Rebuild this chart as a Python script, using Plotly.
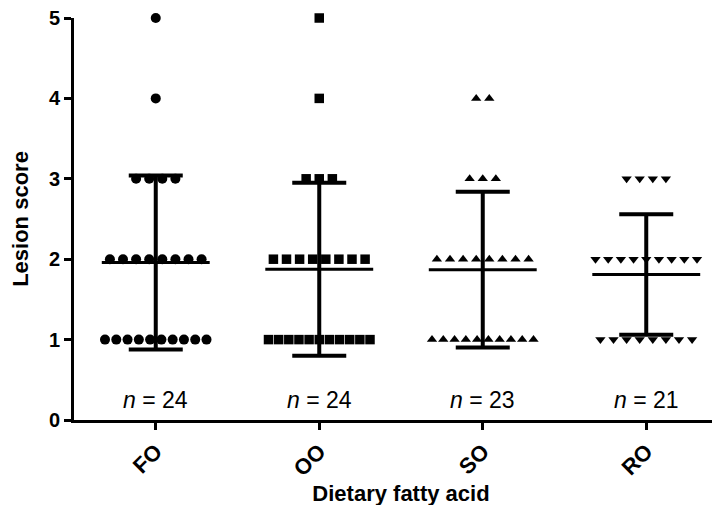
import plotly.graph_objects as go
import numpy as np

# ---- data ----
groups = ["FO", "OO", "SO", "RO"]
scores = [1, 2, 3, 4, 5]
fo_counts = [10, 8, 4, 1, 1]
oo_counts = [11, 8, 3, 1, 1]
so_counts = [10, 8, 3, 2, 0]
ro_counts = [8, 9, 4, 0, 0]
n_labels = ["24", "24", "23", "21"]
y_ticks = [0, 1, 2, 3, 4, 5]

counts = [fo_counts, oo_counts, so_counts, ro_counts]
symbols = ["circle", "square", "triangle-up", "triangle-down"]
sizes = [10, 9.5, 9, 9]

PX_PER_CAT = 163.5
font_fam = "Arial, Liberation Sans, sans-serif"

fig = go.Figure()

for gi, (g, cnts) in enumerate(zip(groups, counts)):
    xs, ys, vals = [], [], []
    for s, c in zip(scores, cnts):
        if c == 0:
            continue
        sp_px = 13.1 if c <= 1 else min(13.1, 101.5 / (c - 1))
        sp = sp_px / PX_PER_CAT
        for k in range(c):
            xs.append(gi + (k - (c - 1) / 2) * sp)
            ys.append(s)
        vals += [s] * c
    vals = np.array(vals, dtype=float)
    mean = vals.mean()
    sd = vals.std(ddof=1)
    fig.add_trace(go.Scatter(
        x=xs, y=ys, mode="markers", cliponaxis=False, showlegend=False,
        marker=dict(symbol=symbols[gi], size=sizes[gi], color="black", line=dict(width=0)),
    ))
    # SD error bar (vertical + caps)
    fig.add_trace(go.Scatter(
        x=[gi], y=[mean], mode="markers", showlegend=False, cliponaxis=False,
        marker=dict(size=0.1, color="rgba(0,0,0,0)"),
        error_y=dict(type="data", array=[sd], visible=True, color="black",
                     thickness=4, width=27),
    ))
    # mean line
    fig.add_trace(go.Scatter(
        x=[gi - 0.33, gi + 0.33], y=[mean, mean], mode="lines", showlegend=False,
        cliponaxis=False, line=dict(color="black", width=3),
    ))
    fig.add_annotation(
        x=gi, y=0.25, text="<i>n</i> = " + n_labels[gi], showarrow=False,
        font=dict(family=font_fam, size=23, color="black"), yanchor="middle",
    )

fig.update_layout(
    width=720, height=505,
    margin=dict(l=66, r=0, t=10, b=93, autoexpand=False),
    paper_bgcolor="white", plot_bgcolor="white",
    font=dict(family=font_fam, color="black"),
    xaxis=dict(
        range=[-0.5, 3.5], tickmode="array", tickvals=list(range(len(groups))),
        ticktext=groups, tickangle=-45, showgrid=False, zeroline=False,
        showline=True, linecolor="black", linewidth=3,
        ticks="outside", ticklen=7, tickwidth=3, tickcolor="black",
        ticklabeloverflow="allow",
        tickfont=dict(family=font_fam, size=22, color="black", weight="bold"),
        title=dict(text="Dietary fatty acid", standoff=1,
                   font=dict(family=font_fam, size=22, color="black", weight="bold")),
    ),
    yaxis=dict(
        range=[0, 5], tickmode="array", tickvals=y_ticks, showgrid=False, zeroline=False,
        showline=True, linecolor="black", linewidth=3,
        ticks="outside", ticklen=7, tickwidth=3, tickcolor="black",
        ticklabeloverflow="allow",
        tickfont=dict(family=font_fam, size=20, color="black", weight="bold"),
        title=dict(text="Lesion score", standoff=16,
                   font=dict(family=font_fam, size=22, color="black", weight="bold")),
    ),
)

fig.write_html("out.html")
